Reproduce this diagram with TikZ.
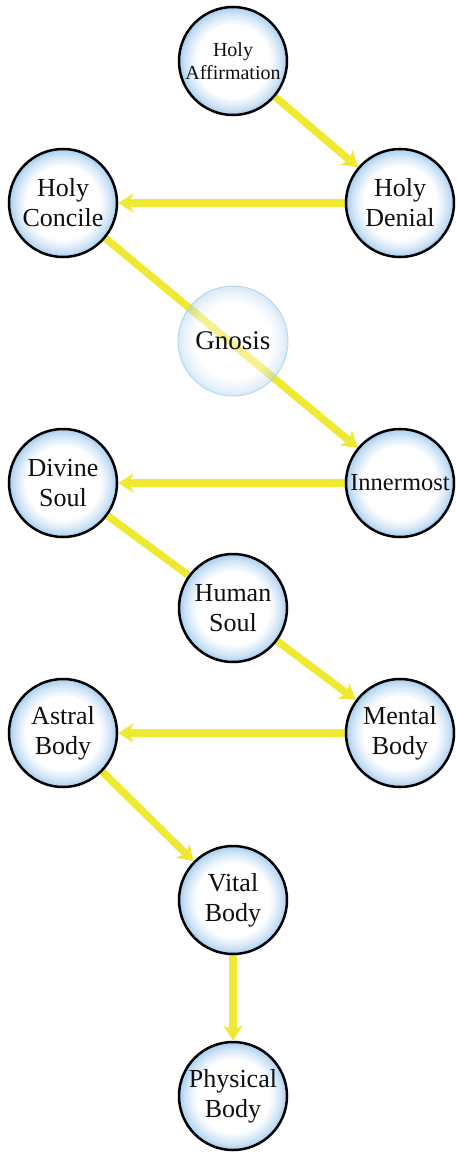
\documentclass[tikz,border=0pt]{standalone}
\usepackage{fontspec}
\setmainfont{Liberation Serif}
\usetikzlibrary{arrows.meta,backgrounds}
\definecolor{ballblue}{RGB}{150,196,236}
\definecolor{ghostblue}{RGB}{170,210,240}
\definecolor{arrowyellow}{RGB}{240,233,52}
\definecolor{txt}{RGB}{15,15,15}
\pgfdeclareradialshading{ballshade}{\pgfpoint{0bp}{0bp}}{color(0bp)=(white); color(17bp)=(white); color(22bp)=(ballblue!45); color(25bp)=(ballblue!85); color(50bp)=(ballblue!85)}
\tikzset{
  ball/.style={circle, draw=black, line width=2.5pt, minimum size=108pt, inner sep=0pt,
    shading=ballshade, align=center, text=txt, font=\fontsize{26}{30}\selectfont},
  ghost/.style={circle, draw=ghostblue, line width=1pt, minimum size=110pt, inner sep=0pt,
    shading=ballshade, fill opacity=0.45, draw opacity=0.8, text opacity=1, align=center, text=txt,
    font=\fontsize{27}{30}\selectfont},
  flow/.style={draw=arrowyellow, line width=7.5pt},
  flowarrow/.style={flow, -{Stealth[length=15pt,width=19pt,inset=4pt]}},
}
\begin{document}
\begin{tikzpicture}[x=1pt,y=-1pt]
\useasboundingbox (0,0) rectangle (456,1153);
\node[ball, font=\fontsize{20}{23}\selectfont] (aff) at (233,61) {Holy\\Affirmation};
\node[ball] (den) at (400,203) {Holy\\Denial};
\node[ball] (con) at (63,203) {Holy\\Concile};
\node[ball, font=\fontsize{24.5}{28}\selectfont] (inn) at (400,483) {Innermost};
\node[ball] (div) at (63,483) {Divine\\Soul};
\node[ball] (hum) at (233,608) {Human\\Soul};
\node[ball] (men) at (400,733) {Mental\\Body};
\node[ball] (ast) at (63,733) {Astral\\Body};
\node[ball] (vit) at (233,900) {Vital\\Body};
\node[ball] (phy) at (233,1096) {Physical\\Body};
\node[ghost] (gno) at (233,341) {Gnosis};
\begin{scope}[on background layer]
\draw[flowarrow] (aff) -- (den);
\draw[flowarrow] (den) -- (con);
\draw[flowarrow] (con) -- (inn);
\draw[flowarrow] (inn) -- (div);
\draw[flow] (div) -- (hum);
\draw[flowarrow] (hum) -- (men);
\draw[flowarrow] (men) -- (ast);
\draw[flowarrow] (ast) -- (vit);
\draw[flowarrow] (vit) -- (phy);
\end{scope}
\end{tikzpicture}
\end{document}
